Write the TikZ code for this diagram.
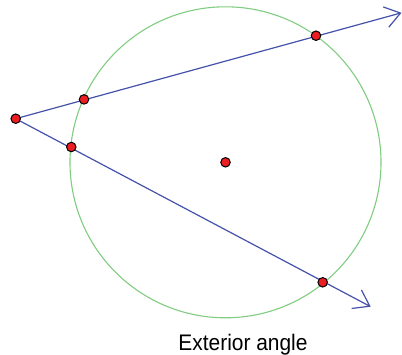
\documentclass[tikz,border=0pt]{standalone}
\usepackage{fontspec}
\setmainfont{Liberation Sans}
\usetikzlibrary{arrows.meta}
\definecolor{lineblue}{RGB}{68,82,170}
\definecolor{circgreen}{RGB}{128,204,128}
\definecolor{dotred}{RGB}{235,30,35}
\tikzset{
  ray/.style={draw=lineblue, line width=1.2pt, -{Straight Barb[length=15pt,width=21pt,line width=1.2pt]}},
  pt/.style={circle, fill=dotred, draw=black, line width=1pt, inner sep=0pt, minimum size=9.5pt},
  lbl/.style={font=\fontsize{22.5}{26}\selectfont, anchor=base, inner sep=0pt, xscale=0.93}
}
\begin{document}
\begin{tikzpicture}[x=1pt,y=-1pt]
\useasboundingbox (0,0) rectangle (402,354);
\coordinate (O) at (225.5,162.3);
\draw[circgreen, line width=1.1pt] (O) circle[radius=155.5];
\coordinate (A) at (15.7,118.7);
\coordinate (U) at (401.5,12.8);
\coordinate (L) at (370.7,306.7);
\draw[ray] (A) -- (U);
\draw[ray] (A) -- (L);
\node[pt] (a) at (A) {};
\node[pt] (p1) at (84,99.4) {};
\node[pt] (p2) at (316,35.7) {};
\node[pt] (q1) at (71.3,147) {};
\node[pt] (q2) at (322.7,282.3) {};
\node[pt] (o) at (O) {};
\node[lbl] (t) at (243,350) {Exterior angle};
\end{tikzpicture}
\end{document}
